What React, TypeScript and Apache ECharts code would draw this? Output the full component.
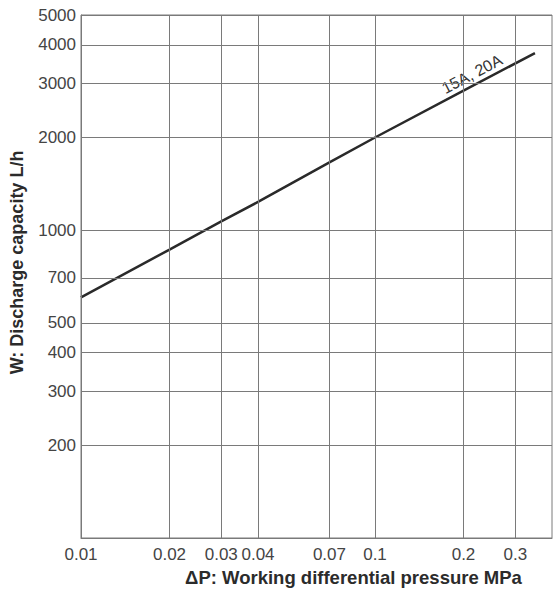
import React, { useEffect, useRef } from "react";
import * as echarts from "echarts";

const pressure = [0.01, 0.02, 0.03, 0.04, 0.07, 0.1, 0.2, 0.35];
const capacity = [605, 865, 1068, 1235, 1660, 2000, 2840, 3760];
const xTicks = [0.01, 0.02, 0.03, 0.04, 0.07, 0.1, 0.2, 0.3];
const xTickLabels = ["0.01", "0.02", "0.03", "0.04", "0.07", "0.1", "0.2", "0.3"];
const yTicks = [200, 300, 400, 500, 700, 1000, 2000, 3000, 4000, 5000];
const yTickLabels = ["200", "300", "400", "500", "700", "1000", "2000", "3000", "4000", "5000"];
const seriesName = "15A, 20A";

const FONT = "'Liberation Sans', Arial, Helvetica, sans-serif";
const GRID = "#7a7a7a";

export default function App() {
  const ref = useRef<HTMLDivElement>(null);
  useEffect(() => {
    document.body.style.margin = "0";
    const chart = echarts.init(ref.current!, null, { renderer: "svg" });
    const markData: any[] = [
      ...xTicks.map((v, i) => ({
        xAxis: v,
        label: { formatter: xTickLabels[i], distance: 8 },
      })),
      ...yTicks.map((v, i) => ({
        yAxis: v,
        label: { formatter: yTickLabels[i], distance: 5 },
      })),
    ];
    chart.setOption({
      animation: false,
      backgroundColor: "#ffffff",
      textStyle: { fontFamily: FONT },
      grid: {
        left: 77,
        right: 4,
        top: 15,
        bottom: 55,
        show: true,
        borderColor: GRID,
        borderWidth: 1,
        backgroundColor: "transparent",
      },
      xAxis: {
        type: "log",
        logBase: 10,
        min: 0.01,
        max: 0.4,
        name: "ΔP: Working differential pressure MPa",
        nameLocation: "middle",
        nameGap: 30,
        nameTextStyle: {
          fontFamily: FONT,
          fontSize: 18.5,
          fontWeight: "bold",
          color: "#2b2b2b",
          padding: [0, 0, 0, 74],
        },
        axisLine: { show: true, lineStyle: { color: GRID, width: 1 } },
        axisTick: { show: false },
        axisLabel: { show: false },
        splitLine: { show: false },
      },
      yAxis: {
        type: "log",
        logBase: 10,
        min: 100,
        max: 5000,
        name: "W: Discharge capacity L/h",
        nameLocation: "middle",
        nameGap: 55,
        nameTextStyle: {
          fontFamily: FONT,
          fontSize: 18,
          fontWeight: "bold",
          color: "#2b2b2b",
          padding: [0, 0, 0, 28],
        },
        axisLine: { show: true, lineStyle: { color: GRID, width: 1 } },
        axisTick: { show: false },
        axisLabel: { show: false },
        splitLine: { show: false },
      },
      series: [
        {
          type: "line",
          name: "grid",
          data: [],
          z: 1,
          silent: true,
          markLine: {
            silent: true,
            symbol: ["none", "none"],
            animation: false,
            lineStyle: { color: GRID, width: 1, type: "solid" },
            label: {
              show: true,
              position: "start",
              fontFamily: FONT,
              fontSize: 17,
              color: "#444",
            },
            emphasis: { disabled: true },
            data: markData,
          },
        },
        {
          type: "line",
          name: seriesName,
          data: pressure.map((p, i) => [p, capacity[i]]),
          showSymbol: false,
          symbol: "none",
          z: 3,
          lineStyle: { color: "#2a2a2a", width: 2.5 },
        },
      ],
      graphic: [
        {
          type: "text",
          x: 472,
          y: 74,
          rotation: (27.7 * Math.PI) / 180,
          style: {
            text: seriesName,
            fontFamily: FONT,
            fontSize: 16,
            fill: "#333",
            align: "center",
            verticalAlign: "middle",
          },
        },
      ],
    });
    return () => chart.dispose();
  }, []);
  return <div ref={ref} style={{ width: 556, height: 593 }} />;
}
